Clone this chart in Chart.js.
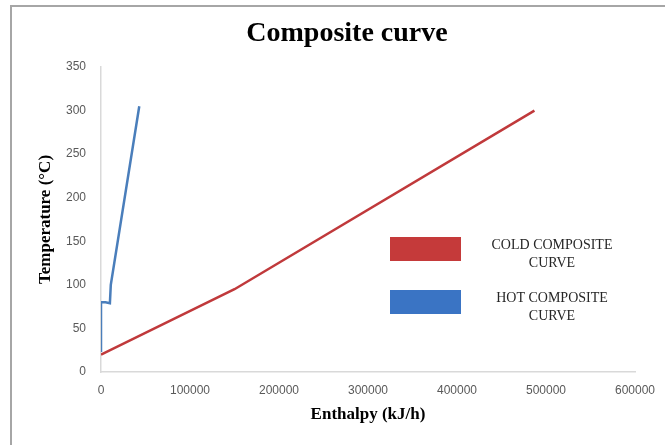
<!DOCTYPE html>
<html lang="en">
<head>
    <meta charset="UTF-8">
    <title>Composite curve</title>
    <script src="https://cdn.jsdelivr.net/npm/chart.js"></script>
    <style>
        html, body { margin: 0; padding: 0; background: #fff; overflow: hidden; }
        #page { position: relative; width: 665px; height: 445px; overflow: hidden; }
        #frame {
            position: absolute; left: 10px; top: 5px; width: 700px; height: 500px;
            border-left: 2px solid #a6a6a6; border-top: 2px solid #a6a6a6;
        }
        #wrap { position: absolute; left: 12px; top: 7px; width: 675px; height: 438px; }
    </style>
</head>
<body>
    <div id="page">
        <div id="frame"></div>
        <div id="wrap"><canvas id="curveChart"></canvas></div>
    </div>

    <script>
        // Values
        const chartTitle = 'Composite curve';
        const seriesNames = ['COLD COMPOSITE CURVE', 'HOT COMPOSITE CURVE'];
        const coldEnthalpy = [0, 150000, 487000];
        const coldTemp = [20, 95, 300];
        const hotEnthalpy = [0, 0, 5000, 10000, 11000, 43000];
        const hotTemp = [23, 80, 80, 79, 100, 305];
        const xTicks = [0, 100000, 200000, 300000, 400000, 500000, 600000];
        const yTicks = [0, 50, 100, 150, 200, 250, 300, 350];

        const red = '#c0393b';
        const blue = '#4a7ebb';
        const legendColors = ['#c53a3a', '#3a74c4'];

        function toPoints(xs, ys) {
            return xs.map((x, i) => ({ x: x, y: ys[i] }));
        }

        // Title and the in-plot legend (two text lines next to each box)
        const decorations = {
            id: 'decorations',
            afterDraw(chart) {
                const ctx = chart.ctx;
                ctx.save();
                ctx.textAlign = 'center';
                ctx.textBaseline = 'middle';
                ctx.fillStyle = '#000';
                ctx.font = 'bold 28px "Liberation Serif", serif';
                ctx.fillText(chartTitle, 335, 27);

                ctx.font = '14px "Liberation Serif", serif';
                seriesNames.forEach((name, i) => {
                    const top = 230 + i * 53;
                    ctx.fillStyle = legendColors[i];
                    ctx.fillRect(378, top, 71, 24);
                    const cut = name.lastIndexOf(' ');
                    ctx.fillStyle = '#262626';
                    ctx.fillText(name.slice(0, cut), 540, top + 8);
                    ctx.fillText(name.slice(cut + 1), 540, top + 26);
                });
                ctx.restore();
            }
        };

        let ctx = document.getElementById('curveChart').getContext('2d');
        new Chart(ctx, {
            type: 'scatter',
            data: {
                datasets: [{
                    label: seriesNames[0],
                    data: toPoints(coldEnthalpy, coldTemp),
                    borderColor: red,
                    backgroundColor: red,
                    borderWidth: 2.5,
                    showLine: true,
                    pointRadius: 0
                }, {
                    label: seriesNames[1],
                    data: toPoints(hotEnthalpy, hotTemp),
                    borderColor: blue,
                    backgroundColor: blue,
                    borderWidth: 2.5,
                    showLine: true,
                    pointRadius: 0
                }]
            },
            options: {
                responsive: true,
                maintainAspectRatio: false,
                animation: false,
                layout: { padding: { left: 0, right: 52, top: 60, bottom: 0 } },
                plugins: {
                    legend: { display: false },
                    tooltip: { enabled: false },
                    title: { display: false }
                },
                scales: {
                    x: {
                        type: 'linear',
                        min: xTicks[0],
                        max: xTicks[xTicks.length - 1],
                        afterBuildTicks: (scale) => { scale.ticks = xTicks.map(v => ({ value: v })); },
                        afterFit: (scale) => { scale.height = 73; },
                        grid: { display: false, drawTicks: false },
                        border: { color: '#d9d9d9', width: 1.5 },
                        ticks: {
                            padding: 11,
                            color: '#595959',
                            font: { family: '"Liberation Sans", sans-serif', size: 12 },
                            callback: (v) => String(v)
                        },
                        title: {
                            display: true,
                            text: 'Enthalpy (kJ/h)',
                            color: '#000',
                            font: { family: '"Liberation Serif", serif', size: 17, weight: 'bold' },
                            padding: { top: 0, bottom: 20 }
                        }
                    },
                    y: {
                        type: 'linear',
                        min: yTicks[0],
                        max: yTicks[yTicks.length - 1],
                        afterBuildTicks: (scale) => { scale.ticks = yTicks.map(v => ({ value: v })); },
                        afterFit: (scale) => { scale.width = 89; },
                        grid: { display: false, drawTicks: false },
                        border: { color: '#d9d9d9', width: 1.5 },
                        ticks: {
                            padding: 15,
                            color: '#595959',
                            font: { family: '"Liberation Sans", sans-serif', size: 12 },
                            callback: (v) => String(v)
                        },
                        title: {
                            display: true,
                            text: 'Temperature (°C)',
                            color: '#000',
                            font: { family: '"Liberation Serif", serif', size: 17, weight: 'bold' },
                            padding: { top: 23, bottom: 0 }
                        }
                    }
                }
            },
            plugins: [decorations]
        });
    </script>
</body>
</html>
